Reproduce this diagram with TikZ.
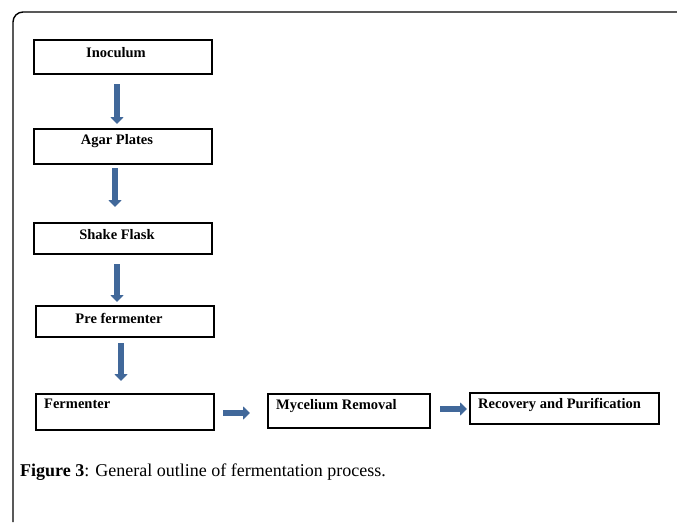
\documentclass[tikz,border=0pt]{standalone}
\usepackage{fontspec}
\setmainfont{Liberation Serif}
\usetikzlibrary{arrows.meta}
\definecolor{arrowblue}{HTML}{41689A}
\begin{document}
\begin{tikzpicture}[x=1pt,y=-1pt,
  stepbox/.style={draw=black,line width=1.6pt,fill=white,anchor=north west,inner sep=0pt},
  lbl/.style={font=\fontsize{14.5}{16}\selectfont\bfseries,inner sep=0pt},
  flow/.style={arrowblue,line width=5.5pt,-{Triangle[length=7pt,width=13pt]}}]
\useasboundingbox (0,0) rectangle (677,522);
% frame
\draw[line width=1.4pt,rounded corners=10pt] (13,522) -- (13,12) -- (677,12);
% boxes
\node[stepbox,minimum width=178pt,minimum height=34pt] (inoc) at (33,39) {};
\node[lbl] (inoct) at (116,53) {Inoculum};
\node[stepbox,minimum width=178pt,minimum height=35pt] (agar) at (33,128) {};
\node[lbl] (agart) at (117,141) {Agar Plates};
\node[stepbox,minimum width=178pt,minimum height=31pt] (shake) at (33,222) {};
\node[lbl] (shaket) at (117,235) {Shake Flask};
\node[stepbox,minimum width=178pt,minimum height=31pt] (pre) at (35,305) {};
\node[lbl] (pret) at (119,318) {Pre fermenter};
\node[stepbox,minimum width=178pt,minimum height=36pt] (ferm) at (35,393) {};
\node[lbl,anchor=west] (fermt) at (44,404) {Fermenter};
\node[stepbox,minimum width=162pt,minimum height=34pt] (myc) at (267,393) {};
\node[lbl,anchor=west] (myct) at (276,406) {Mycelium Removal};
\node[stepbox,minimum width=189pt,minimum height=31pt] (rec) at (469,392) {};
\node[lbl,anchor=west] (rect) at (478,405) {Recovery and Purification};
% arrows
\coordinate (a1s) at (117,84);  \coordinate (a1e) at (117,124);
\coordinate (a2s) at (115,168); \coordinate (a2e) at (115,207);
\coordinate (a3s) at (117,264); \coordinate (a3e) at (117,302);
\coordinate (a4s) at (121,343); \coordinate (a4e) at (121,381);
\coordinate (h1s) at (223,413); \coordinate (h1e) at (250,413);
\coordinate (h2s) at (440,409); \coordinate (h2e) at (467,409);
\draw[flow] (a1s) -- (a1e);
\draw[flow] (a2s) -- (a2e);
\draw[flow] (a3s) -- (a3e);
\draw[flow] (a4s) -- (a4e);
\draw[flow] (h1s) -- (h1e);
\draw[flow] (h2s) -- (h2e);
% caption
\node[anchor=base west,inner sep=0pt,font=\fontsize{18}{22}\selectfont] (cap) at (20,476) {\textbf{Figure 3}: General outline of fermentation process.};
\end{tikzpicture}
\end{document}
